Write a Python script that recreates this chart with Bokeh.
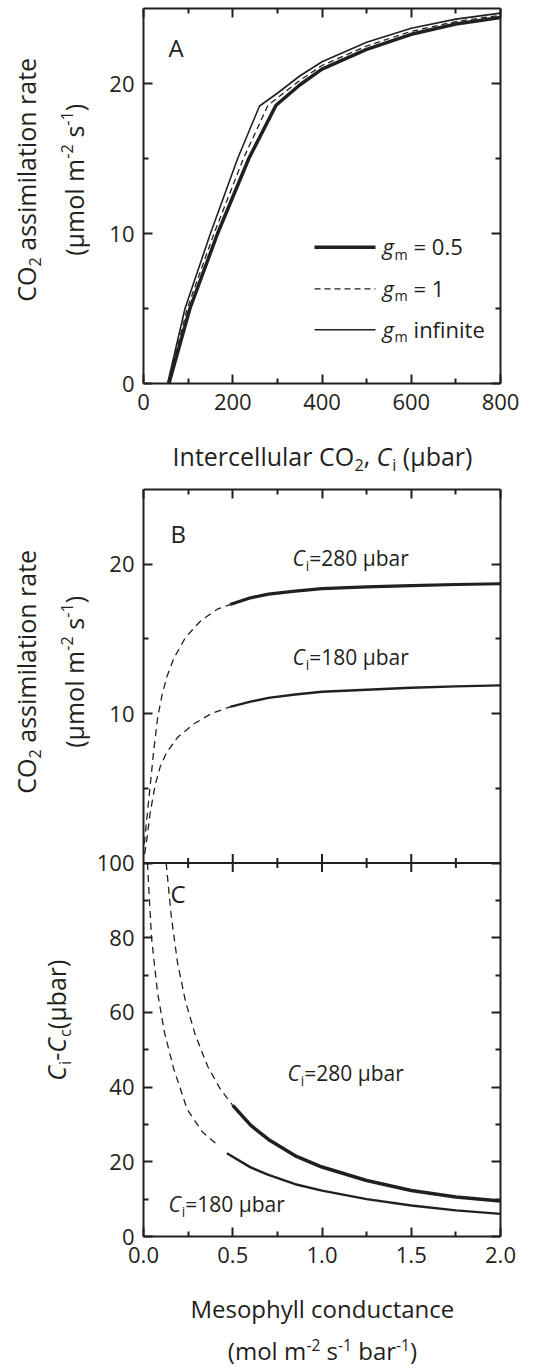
import math
from bokeh.plotting import figure
from bokeh.models import (Label, LinearAxis, FixedTicker, Range1d, Span,
                          PrintfTickFormatter, CustomJSTickFormatter)
from bokeh.layouts import column, row
from bokeh.embed import file_html
from bokeh.resources import INLINE

# ---------------- data ----------------
# Panel A: CO2 assimilation rate (umol m-2 s-1) vs intercellular CO2 (ubar)
ci_g05 = [57, 104, 166, 236, 297, 350, 400, 500, 600, 700, 800]
a_g05 = [0, 5, 10, 15, 18.55, 19.9, 20.96, 22.28, 23.28, 23.97, 24.4]
ci_g1 = [55, 98, 158, 224, 279, 350, 400, 500, 600, 700, 800]
a_g1 = [0, 5, 10, 15, 18.55, 20.2, 21.2, 22.5, 23.48, 24.13, 24.55]
ci_inf = [54, 93, 150, 211, 260, 300, 350, 400, 500, 600, 700, 800]
a_inf = [0, 5, 10, 15, 18.5, 19.35, 20.5, 21.45, 22.75, 23.68, 24.29, 24.69]

# Panel B: assimilation vs mesophyll conductance
gm_b280_dash = [0.005, 0.018, 0.036, 0.058, 0.08, 0.105, 0.132, 0.17, 0.235, 0.32, 0.415, 0.485]
a_b280_dash = [1.3, 2.9, 5.0, 7.6, 9.8, 11.3, 12.5, 13.7, 15.1, 16.2, 17.0, 17.3]
gm_b280 = [0.485, 0.6, 0.7, 0.85, 1.0, 1.25, 1.5, 1.75, 2.0]
a_b280 = [17.3, 17.75, 18.0, 18.2, 18.36, 18.48, 18.57, 18.64, 18.69]
gm_b180_dash = [0.006, 0.018, 0.038, 0.065, 0.095, 0.13, 0.19, 0.28, 0.38, 0.485]
a_b180_dash = [0.6, 1.5, 3.4, 5.2, 6.5, 7.4, 8.4, 9.3, 10.0, 10.45]
gm_b180 = [0.485, 0.6, 0.7, 0.85, 1.0, 1.25, 1.5, 1.75, 2.0]
a_b180 = [10.45, 10.8, 11.05, 11.28, 11.46, 11.6, 11.73, 11.82, 11.89]

# Panel C: Ci - Cc (ubar) vs mesophyll conductance
gm_c280_dash = [0.127, 0.155, 0.19, 0.235, 0.29, 0.36, 0.43, 0.5]
d_c280_dash = [100, 86, 73.5, 63, 54, 45.5, 39.5, 35.1]
gm_c280 = [0.5, 0.6, 0.7, 0.85, 1.0, 1.25, 1.5, 1.75, 2.0]
d_c280 = [35.1, 29.8, 26.0, 21.6, 18.6, 15.0, 12.3, 10.6, 9.5]
gm_c180_dash = [0.022, 0.045, 0.078, 0.118, 0.17, 0.245, 0.33, 0.42]
d_c180_dash = [100, 80, 65.5, 54.5, 44.8, 34, 28, 24.3]
gm_c180 = [0.467, 0.6, 0.7, 0.85, 1.0, 1.25, 1.5, 1.75, 2.0]
d_c180 = [22.3, 18.5, 16.5, 14.0, 12.3, 10.0, 8.3, 7.0, 6.05]

# ticks
a_x_major = [0, 200, 400, 600, 800]
a_x_minor = [100, 300, 500, 700]
a_y_major = [0, 10, 20]
a_y_minor = [5, 15]
gm_major = [0.0, 0.5, 1.0, 1.5, 2.0]
gm_minor = [0.25, 0.75, 1.25, 1.75]
b_y_major = [10, 20]
b_y_minor = [5, 15]
c_y_major = [0, 20, 40, 60, 80, 100]
c_y_minor = [10, 30, 50, 70, 90]

# ---------------- style ----------------
FONT = "Open Sans"
INK = "#231f20"
TICK_SIZE = "22px"
STRIP_W = 90          # width of the strip that holds the y titles
BASE_FIX = 0.40       # Bokeh draws "alphabetic" text lower than the given point; lift it back

W = {' ': .26, '(': .296, ')': .296, ',': .248, '-': .322, '.': .266, '=': .572,
     'A': .633, 'B': .648, 'C': .631, 'I': .295, 'M': .903, 'O': .779,
     'a': .556, 'b': .613, 'c': .476, 'd': .613, 'e': .561, 'f': .339, 'g': .548,
     'h': .614, 'i': .253, 'l': .253, 'm': .930, 'n': .614, 'o': .604, 'p': .613,
     'r': .408, 's': .477, 't': .353, 'u': .614, 'y': .513, 'µ': .614}
for d in "0123456789":
    W[d] = .572


def tw(s, size):
    return sum(W.get(ch, .56) for ch in s) * size


def rich(p, x, y, runs, size, angle=0.0, align="left"):
    """Place a run of differently styled pieces (italic, sub/superscript) one after another."""
    pieces = []
    c = 0.0
    for text, st in runs:
        small = st in ("sub", "sup")
        s = size * 0.65 if small else size
        rise = -0.22 * size if st == "sub" else (0.40 * size if st == "sup" else 0.0)
        rise += BASE_FIX * s
        core = text.strip(" ")
        lead = len(text) - len(text.lstrip(" "))
        trail = len(text) - len(text.rstrip(" "))
        c += lead * W[' '] * s
        pieces.append((core, st, s, c, rise))
        c += tw(core, s) + trail * W[' '] * s
    start = -c / 2 if align == "center" else 0.0
    ca, sa = math.cos(angle), math.sin(angle)
    for text, st, s, adv, rise in pieces:
        a = start + adv
        dx = a * ca - rise * sa
        dy = a * sa + rise * ca
        p.add_layout(Label(x=x, y=y, text=text, x_offset=dx, y_offset=dy, angle=angle,
                           text_font=FONT, text_font_size=f"{s:.1f}px",
                           text_font_style="italic" if st == "i" else "normal",
                           text_color=INK, text_align="left", text_baseline="alphabetic"))


BLANK = CustomJSTickFormatter(code="return '';")


def style_axis(ax, major, minor, labels=True, standoff=8):
    ax.ticker = FixedTicker(ticks=major, minor_ticks=minor)
    ax.major_tick_in = 9
    ax.major_tick_out = 0
    ax.minor_tick_in = 5
    ax.minor_tick_out = 0
    ax.axis_line_width = 2
    ax.axis_line_color = INK
    ax.major_tick_line_width = 2
    ax.minor_tick_line_width = 2
    ax.major_tick_line_color = INK
    ax.minor_tick_line_color = INK
    ax.major_label_text_font = FONT
    ax.major_label_text_color = INK
    if labels:
        ax.major_label_text_font_size = TICK_SIZE
        ax.major_label_standoff = standoff
    else:
        ax.formatter = BLANK
        ax.major_label_text_font_size = "1px"
        ax.major_label_standoff = 0


def base_fig(width, height, xr, yr, left, top, bottom):
    p = figure(width=width, height=height, x_range=xr, y_range=yr,
               output_backend="svg", toolbar_location=None,
               min_border_left=left, min_border_right=49,
               min_border_top=top, min_border_bottom=bottom)
    p.outline_line_color = None
    p.xgrid.visible = False
    p.ygrid.visible = False
    p.background_fill_color = "white"
    p.border_fill_color = "white"
    return p


def strip(width, height):
    """Axis-less figure whose data units are pixels (y downwards) - holds titles."""
    s = figure(width=width, height=height, x_range=Range1d(0, width), y_range=Range1d(height, 0),
               output_backend="svg", toolbar_location=None,
               x_axis_location=None, y_axis_location=None,
               min_border=0, min_border_left=0, min_border_right=0,
               min_border_top=0, min_border_bottom=0)
    s.outline_line_color = None
    s.xgrid.visible = False
    s.ygrid.visible = False
    s.background_fill_color = "white"
    s.border_fill_color = "white"
    return s


# ---------------- Panel A ----------------
FRAME_L, FRAME_R = 143, 500
A_T, A_B = 8, 383
A_H = 428
pa = base_fig(549 - STRIP_W, A_H, Range1d(0, 800), Range1d(0, 25), FRAME_L - STRIP_W, A_T, A_H - A_B)


def a_xy(px, py):
    return (px - FRAME_L) / (FRAME_R - FRAME_L) * 800, (A_B - py) / (A_B - A_T) * 25


style_axis(pa.xaxis[0], a_x_major, a_x_minor, standoff=10)
style_axis(pa.yaxis[0], a_y_major, a_y_minor, standoff=9)
ax = LinearAxis()
style_axis(ax, a_x_major, a_x_minor, labels=False)
pa.add_layout(ax, "above")
ax = LinearAxis()
style_axis(ax, a_y_major, a_y_minor, labels=False)
pa.add_layout(ax, "right")

pa.line(ci_inf, a_inf, line_color=INK, line_width=1.6)
pa.line(ci_g1, a_g1, line_color=INK, line_width=1.3, line_dash="6 4")
pa.line(ci_g05, a_g05, line_color=INK, line_width=3.5)

# legend (drawn by hand for the italic / subscript labels)
leg = [("= 0.5", 3.5, "solid", 246.7), ("= 1", 1.3, "6 4", 288.3), ("infinite", 1.6, "solid", 329.3)]
for txt, lw, dash, ly in leg:
    x0, yy = a_xy(314, ly)
    x1, _ = a_xy(375, ly)
    pa.line([x0, x1], [yy, yy], line_color=INK, line_width=lw, line_dash=dash)
    tx, ty = a_xy(382, ly + 8)
    rich(pa, tx, ty, [("g", "i"), ("m", "sub"), (" " + txt, "n")], 22)

x, y = a_xy(168, 57)
rich(pa, x, y, [("A", "n")], 24)

Y_TITLE_1 = [("CO", "n"), ("2", "sub"), (" assimilation rate", "n")]
Y_TITLE_2 = [("(µmol m", "n"), ("-2", "sup"), (" s", "n"), ("-1", "sup"), (")", "n")]

sa_left = strip(STRIP_W, A_H)
rich(sa_left, 35, (A_T + A_B) / 2, Y_TITLE_1, 25, angle=math.pi / 2, align="center")
rich(sa_left, 83, (A_T + A_B) / 2, Y_TITLE_2, 25, angle=math.pi / 2, align="center")

SA_BOTTOM_H = 52
sa_bottom = strip(549, SA_BOTTOM_H)
rich(sa_bottom, 322, 465 - A_H, [("Intercellular CO", "n"), ("2", "sub"), (", ", "n"), ("C", "i"),
                                 ("i", "sub"), (" (µbar)", "n")], 25, align="center")

# ---------------- Panels B + C (one frame, two y scales) ----------------
TOP0 = A_H + SA_BOTTOM_H            # 480
BC_T, BC_B = 489, 1236
BC_H = 801
C_TOP = 100.0          # Ci-Cc axis top
B_TOP = 25.0           # assimilation axis top
pbc = base_fig(549 - STRIP_W, BC_H, Range1d(0, 2), Range1d(0, 2 * C_TOP),
               FRAME_L - STRIP_W, BC_T - TOP0, TOP0 + BC_H - BC_B)
pbc.extra_y_ranges = {"B": Range1d(-B_TOP, B_TOP)}


def bc_xy(px, py):
    return (px - FRAME_L) / (FRAME_R - FRAME_L) * 2, (BC_B - py) / (BC_B - BC_T) * 2 * C_TOP


def b_to_main(v):
    return C_TOP + v * C_TOP / B_TOP


left_major = c_y_major + [b_to_main(v) for v in b_y_major]
left_minor = c_y_minor + [b_to_main(v) for v in b_y_minor]
fmt = CustomJSTickFormatter(args=dict(top=C_TOP, k=C_TOP / B_TOP),
                            code="return tick > top + 0.5 ? ((tick - top) / k).toFixed(0) : tick.toFixed(0);")

style_axis(pbc.xaxis[0], gm_major, gm_minor, standoff=10)
pbc.xaxis[0].formatter = PrintfTickFormatter(format="%.1f")
style_axis(pbc.yaxis[0], left_major, left_minor, standoff=9)
pbc.yaxis[0].formatter = fmt
ax = LinearAxis()
style_axis(ax, gm_major, gm_minor, labels=False)
pbc.add_layout(ax, "above")
ax = LinearAxis()
style_axis(ax, left_major, left_minor, labels=False)
pbc.add_layout(ax, "right")

# join line between B and C with ticks pointing both ways
pbc.add_layout(Span(location=C_TOP, dimension="width", line_color=INK, line_width=2))
pbc.scatter(gm_major[1:-1], [C_TOP] * (len(gm_major) - 2), marker="dash", size=18,
            angle=math.pi / 2, line_color=INK, line_width=2)
pbc.scatter(gm_minor, [C_TOP] * len(gm_minor), marker="dash", size=10,
            angle=math.pi / 2, line_color=INK, line_width=2)

DASH = "7 5"
pbc.line(gm_b280_dash, a_b280_dash, y_range_name="B", line_color=INK, line_width=1.3, line_dash=DASH)
pbc.line(gm_b180_dash, a_b180_dash, y_range_name="B", line_color=INK, line_width=1.3, line_dash=DASH)
pbc.line(gm_b280, a_b280, y_range_name="B", line_color=INK, line_width=3.2)
pbc.line(gm_b180, a_b180, y_range_name="B", line_color=INK, line_width=2.4)

pbc.line(gm_c280_dash, d_c280_dash, line_color=INK, line_width=1.3, line_dash=DASH)
pbc.line(gm_c180_dash, d_c180_dash, line_color=INK, line_width=1.3, line_dash=DASH)
pbc.line(gm_c280, d_c280, line_color=INK, line_width=3.5)
pbc.line(gm_c180, d_c180, line_color=INK, line_width=2.4)

x, y = bc_xy(170, 543)
rich(pbc, x, y, [("B", "n")], 24)
x, y = bc_xy(170, 903)
rich(pbc, x, y, [("C", "n")], 24)
for px, py, t in [(292, 566, "=280 µbar"), (292, 665, "=180 µbar"),
                  (287, 1081, "=280 µbar"), (168, 1212, "=180 µbar")]:
    x, y = bc_xy(px, py)
    rich(pbc, x, y, [("C", "i"), ("i", "sub"), (t, "n")], 21)

sbc_left = strip(STRIP_W, BC_H)
b_mid = (BC_T + 862) / 2 - TOP0
rich(sbc_left, 35, b_mid, Y_TITLE_1, 25, angle=math.pi / 2, align="center")
rich(sbc_left, 83, b_mid, Y_TITLE_2, 25, angle=math.pi / 2, align="center")
rich(sbc_left, 65, (862 + BC_B) / 2 - TOP0,
     [("C", "i"), ("i", "sub"), ("-", "n"), ("C", "i"), ("c", "sub"), ("(µbar)", "n")], 25,
     angle=math.pi / 2, align="center")

SBC_BOTTOM_H = 1368 - TOP0 - BC_H
sbc_bottom = strip(549, SBC_BOTTOM_H)
y0 = TOP0 + BC_H
rich(sbc_bottom, 322, 1318 - y0, [("Mesophyll conductance", "n")], 24, align="center")
rich(sbc_bottom, 322, 1360 - y0, [("(mol m", "n"), ("-2", "sup"), (" s", "n"), ("-1", "sup"),
                                  (" bar", "n"), ("-1", "sup"), (")", "n")], 24, align="center")

layout = column(row(sa_left, pa, spacing=0), sa_bottom,
                row(sbc_left, pbc, spacing=0), sbc_bottom, spacing=0)
open("out.html", "w").write(file_html(layout, INLINE))
